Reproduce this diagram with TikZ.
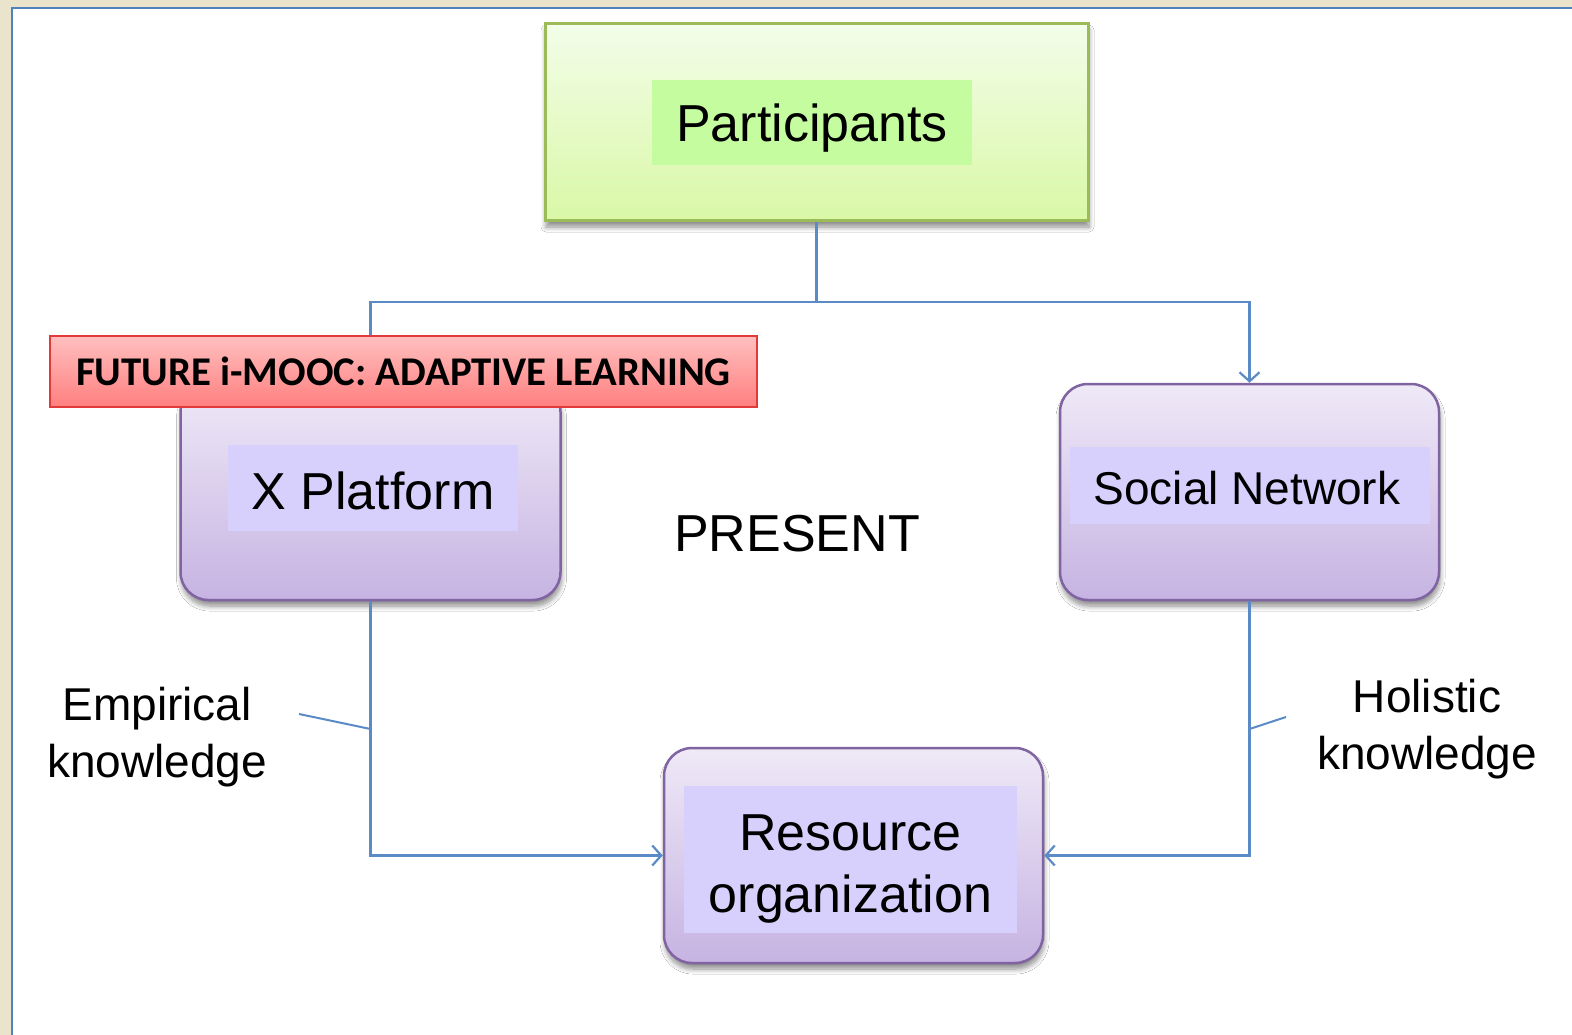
\documentclass[tikz,border=0pt]{standalone}
\usepackage{fontspec}
\setmainfont{Liberation Sans}
\newfontfamily\carlito{Carlito}
\usetikzlibrary{arrows.meta,shadows,shadows.blur}
\definecolor{cBg}{HTML}{EAE4CC}
\definecolor{cFrame}{HTML}{4F81BD}
\definecolor{cLine}{HTML}{5B8BC6}
\definecolor{cPBorder}{HTML}{8064A2}
\definecolor{cPTop}{HTML}{EFE9F7}
\definecolor{cPBot}{HTML}{C6B3E2}
\definecolor{cPLbl}{HTML}{D8D0FC}
\definecolor{cGBorder}{HTML}{9BBB59}
\definecolor{cGTop}{HTML}{F3FDE9}
\definecolor{cGBot}{HTML}{D9F8A6}
\definecolor{cGLbl}{HTML}{C4FC9F}
\definecolor{cRBorder}{HTML}{E23A3A}
\definecolor{cRTop}{HTML}{FFBFBF}
\definecolor{cRBot}{HTML}{FF7F7F}
\begin{document}
\begin{tikzpicture}[x=1pt,y=-1pt,
  connline/.style={draw=cLine,line width=2.5pt},
  leader/.style={draw=cLine,line width=2pt},
  arrowtip/.style={-{Straight Barb[length=9pt,width=20pt,line width=2.2pt]}},
  boxshadow/.style={blur shadow={shadow xshift=1pt,shadow yshift=-6pt,
    shadow blur radius=5pt,shadow blur steps=8,shadow opacity=45}},
  purplebox/.style={draw=cPBorder,line width=2.5pt,rounded corners=28pt,
    top color=cPTop,bottom color=cPBot,boxshadow,inner sep=0pt},
  purplefill/.style={fill=cPLbl,inner sep=0pt},
  bigtext/.style={inner sep=0pt,align=center,font=\fontsize{52}{62}\selectfont},
  greenbox/.style={draw=cGBorder,line width=3pt,top color=cGTop,bottom color=cGBot,
    boxshadow,inner sep=0pt},
  greenfill/.style={fill=cGLbl,inner sep=0pt},
  redbox/.style={draw=cRBorder,line width=2pt,top color=cRTop,bottom color=cRBot,
    inner sep=0pt,font=\carlito\bfseries\fontsize{40.8}{48}\selectfont},
  sidetext/.style={align=center,inner sep=0pt,font=\fontsize{46}{57}\selectfont}
]
\useasboundingbox (0,0) rectangle (1572,1035);
% background and frame
\fill[cBg] (0,0) rectangle (1572,1035);
\fill[white] (12,8) rectangle (1572,1035);
\draw[cFrame,line width=2.5pt] (12,1035) -- (12,8) -- (1572,8);

% main boxes
\node[greenbox,minimum width=543pt,minimum height=197pt] (part) at (816.5,122.5) {};
\node[greenfill,minimum width=320pt,minimum height=85pt] (partf) at (812,122.5) {};
\node[bigtext] (partt) at (812,128.5) {Participants};

\node[purplebox,minimum width=380pt,minimum height=216pt] (xp) at (370.5,492) {};
\node[purplefill,minimum width=290pt,minimum height=86pt] (xpf) at (373,488) {};
\node[bigtext] (xpt) at (373,491) {X Platform};

\node[purplebox,minimum width=379pt,minimum height=216pt] (sn) at (1249.5,492) {};
\node[purplefill,minimum width=360pt,minimum height=77pt] (snf) at (1250,485.5) {};
\node[bigtext,font=\fontsize{46}{55}\selectfont] (snt) at (1247,488.5) {Social Network};

\node[purplebox,minimum width=379pt,minimum height=215pt] (res) at (853.5,855.5) {};
\node[purplefill,minimum width=333pt,minimum height=147pt] (resf) at (850.5,859.5) {};
\node[bigtext] (rest) at (850.5,869.5) {Resource\\organization};

% connectors
\coordinate (bus) at (816.5,302);
\draw[connline] (part.south) -- (bus) -| (xp.north);
\draw[connline,arrowtip] (bus) -| (sn.north);
\draw[connline,arrowtip] (xp.south) |- (res.west);
\draw[connline,arrowtip] (sn.south) |- (res.east);

% leader lines to side labels
\coordinate (empA) at (299,714);
\coordinate (empB) at (370.5,729);
\draw[leader] (empA) -- (empB);
\coordinate (holA) at (1286,717);
\coordinate (holB) at (1249.5,729);
\draw[leader] (holA) -- (holB);

% side labels
\node[sidetext] (emp) at (157,737) {Empirical\\knowledge};
\node[sidetext] (hol) at (1427,729) {Holistic\\knowledge};
\node[anchor=base,inner sep=0pt,font=\fontsize{52}{62}\selectfont] (present) at (797,551) {PRESENT};

% future label (on top)
\node[redbox,minimum width=707pt,minimum height=71pt] (future) at (403.5,371.5) {FUTURE i-MOOC: ADAPTIVE LEARNING\hspace{14pt}};
\end{tikzpicture}
\end{document}
